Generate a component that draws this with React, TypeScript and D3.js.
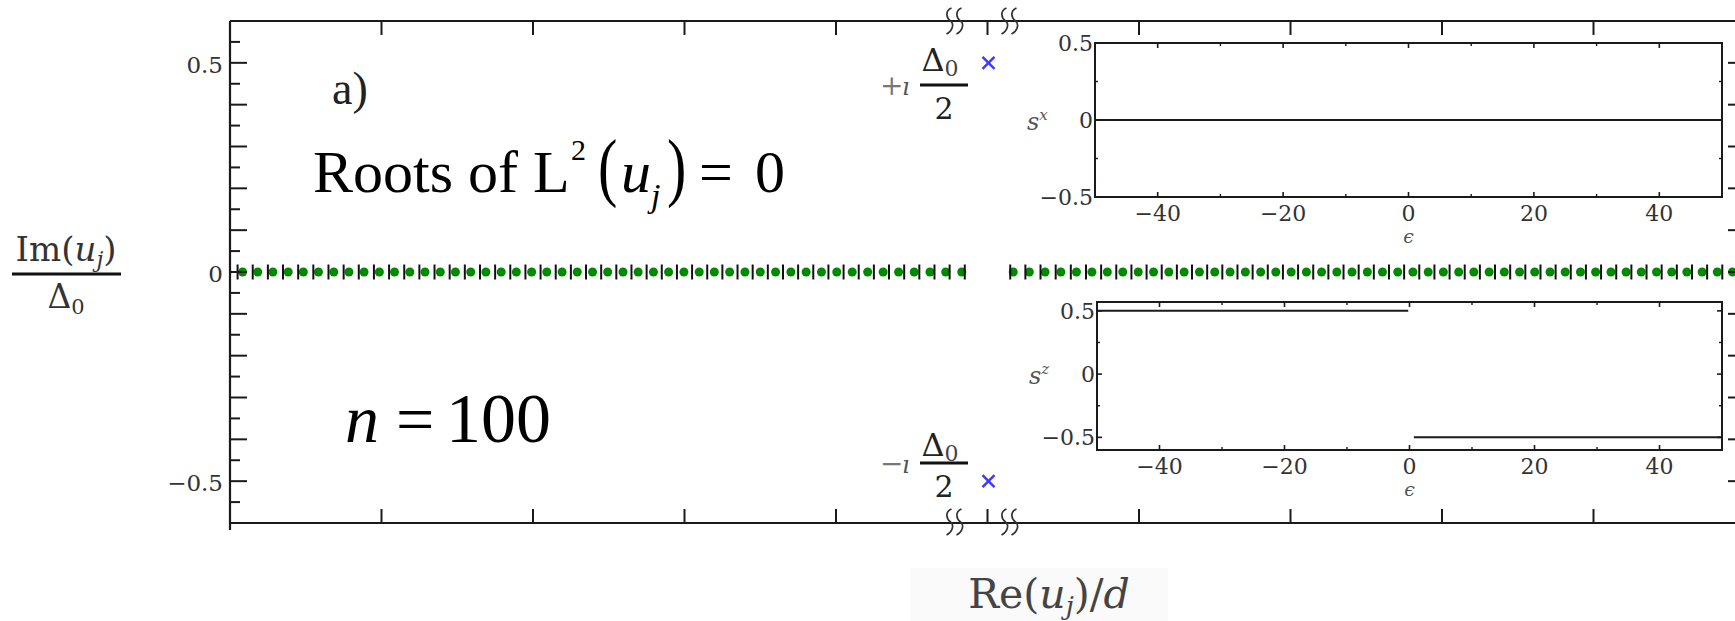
import React from "react";
import * as d3 from "d3";

const W = 1735;
const H = 621;

// Single-particle levels ε_j / d (black ticks on the real axis)
const levelsLeft = [
  -49.5, -48.5, -47.5, -46.5, -45.5, -44.5, -43.5, -42.5, -41.5, -40.5,
  -39.5, -38.5, -37.5, -36.5, -35.5, -34.5, -33.5, -32.5, -31.5, -30.5,
  -29.5, -28.5, -27.5, -26.5, -25.5, -24.5, -23.5, -22.5, -21.5, -20.5,
  -19.5, -18.5, -17.5, -16.5, -15.5, -14.5, -13.5, -12.5, -11.5, -10.5,
  -9.5, -8.5, -7.5, -6.5, -5.5, -4.5, -3.5, -2.5, -1.5,
];
const levelsRight = [
  1.5, 2.5, 3.5, 4.5, 5.5, 6.5, 7.5, 8.5, 9.5, 10.5,
  11.5, 12.5, 13.5, 14.5, 15.5, 16.5, 17.5, 18.5, 19.5, 20.5,
  21.5, 22.5, 23.5, 24.5, 25.5, 26.5, 27.5, 28.5, 29.5, 30.5,
  31.5, 32.5, 33.5, 34.5, 35.5, 36.5, 37.5, 38.5, 39.5, 40.5,
  41.5, 42.5, 43.5, 44.5, 45.5, 46.5, 47.5, 48.5, 49.5,
];

// Real roots Re(u_j)/d (green dots)
const rootsLeft = [
  -50.2, -49.17, -48.17, -47.17, -46.16, -45.16, -44.16, -43.15, -42.15, -41.15,
  -40.14, -39.14, -38.13, -37.13, -36.12, -35.12, -34.11, -33.11, -32.1, -31.1,
  -30.09, -29.09, -28.08, -27.08, -26.07, -25.07, -24.06, -23.06, -22.05, -21.05,
  -20.04, -19.03, -18.03, -17.02, -16.01, -15.0, -13.99, -12.98, -11.97, -10.96,
  -9.95, -8.93, -7.91, -6.89, -5.87, -4.84, -3.8, -2.76, -1.7,
];
const rootsRight = [
  1.7, 2.76, 3.8, 4.84, 5.87, 6.89, 7.91, 8.93, 9.95, 10.96,
  11.97, 12.98, 13.99, 15.0, 16.01, 17.02, 18.03, 19.03, 20.04, 21.05,
  22.05, 23.06, 24.06, 25.07, 26.07, 27.08, 28.08, 29.09, 30.09, 31.1,
  32.1, 33.11, 34.11, 35.12, 36.12, 37.13, 38.13, 39.14, 40.14, 41.15,
  42.15, 43.15, 44.16, 45.16, 46.16, 47.17, 48.17, 49.17, 50.2,
];

// Complex pair ±iΔ0/2 (blue crosses)
const complexRe = [0, 0];
const complexIm = [0.5, -0.5];

// Main axes ticks
const mainXTicks = [-40, -30, -20, -10, 0, 10, 20, 30, 40];
const mainYMajor = [-0.6, -0.5, -0.4, -0.3, -0.2, -0.1, 0, 0.1, 0.2, 0.3, 0.4, 0.5, 0.6];
const mainYMinor = [-0.55, -0.45, -0.35, -0.25, -0.15, -0.05, 0.05, 0.15, 0.25, 0.35, 0.45, 0.55];
const mainYLabels = ["−0.5", "0", "0.5"];
const mainYLabelVals = [-0.5, 0, 0.5];

// Inset ticks
const insetXMajor = [-40, -20, 0, 20, 40];
const insetXMajorLabels = ["−40", "−20", "0", "20", "40"];
const insetXMinor = [-30, -10, 10, 30];
const insetYMajor = [-0.5, 0, 0.5];
const insetYLabels = ["−0.5", "0", "0.5"];
const insetYMinor = [-0.25, 0.25];

// s^x(ε) and s^z(ε) curves
const sxEps = [-50, 50];
const sxVal = [0, 0];
const szEpsA = [-50, -0.2];
const szValA = [0.5, 0.5];
const szEpsB = [0.7, 50];
const szValB = [-0.5, -0.5];

const SERIF = "'Liberation Serif', 'Times New Roman', serif";
const MATH = "'DejaVu Serif', 'Liberation Serif', serif";
const INK = "#1a1a1a";
const GREY = "#555";

const x = d3.scaleLinear().domain([-50, 50]).range([230, 1745]);
const y = d3.scaleLinear().domain([-0.6, 0.6]).range([523, 21]);

type InsetProps = {
  x0: number;
  x1: number;
  y0: number;
  y1: number;
  yDomain: [number, number];
  label: string;
  curves: { eps: number[]; val: number[] }[];
};

function Inset({ x0, x1, y0, y1, yDomain, label, curves }: InsetProps) {
  const xi = d3.scaleLinear().domain([-50, 50]).range([x0, x1]);
  const yi = d3.scaleLinear().domain(yDomain).range([y1, y0]);
  const line = d3
    .line<[number, number]>()
    .x((d) => xi(d[0]))
    .y((d) => yi(d[1]));
  return (
    <g>
      {curves.map((c, i) => (
        <path
          key={i}
          d={line(c.eps.map((e, k) => [e, c.val[k]]) as [number, number][]) || ""}
          fill="none"
          stroke={INK}
          strokeWidth={2}
        />
      ))}
      <rect x={x0} y={y0} width={x1 - x0} height={y1 - y0} fill="none" stroke={INK} strokeWidth={2} />
      {insetXMajor.map((v) => (
        <g key={"xm" + v}>
          <line x1={xi(v)} x2={xi(v)} y1={y0} y2={y0 + 5} stroke={INK} strokeWidth={1.6} />
          <line x1={xi(v)} x2={xi(v)} y1={y1} y2={y1 - 5} stroke={INK} strokeWidth={1.6} />
        </g>
      ))}
      {insetXMinor.map((v) => (
        <g key={"xn" + v}>
          <line x1={xi(v)} x2={xi(v)} y1={y0} y2={y0 + 3} stroke={INK} strokeWidth={1.4} />
          <line x1={xi(v)} x2={xi(v)} y1={y1} y2={y1 - 3} stroke={INK} strokeWidth={1.4} />
        </g>
      ))}
      {insetYMajor.map((v) => (
        <g key={"ym" + v}>
          <line x1={x0} x2={x0 + 5} y1={yi(v)} y2={yi(v)} stroke={INK} strokeWidth={1.6} />
          <line x1={x1} x2={x1 - 5} y1={yi(v)} y2={yi(v)} stroke={INK} strokeWidth={1.6} />
        </g>
      ))}
      {insetYMinor.map((v) => (
        <g key={"yn" + v}>
          <line x1={x0} x2={x0 + 3} y1={yi(v)} y2={yi(v)} stroke={INK} strokeWidth={1.4} />
          <line x1={x1} x2={x1 - 3} y1={yi(v)} y2={yi(v)} stroke={INK} strokeWidth={1.4} />
        </g>
      ))}
      {insetYMajor.map((v, i) => (
        <text
          key={"yl" + v}
          x={x0 - 2}
          y={yi(v) + 8}
          textAnchor="end"
          fontFamily={MATH}
          fontSize={22}
          fill="#333"
        >
          {insetYLabels[i]}
        </text>
      ))}
      {insetXMajor.map((v, i) => (
        <text
          key={"xl" + v}
          x={xi(v)}
          y={y1 + 24}
          textAnchor="middle"
          fontFamily={MATH}
          fontSize={22}
          fill="#333"
        >
          {insetXMajorLabels[i]}
        </text>
      ))}
      <text x={xi(0)} y={y1 + 46} textAnchor="middle" fontFamily={MATH} fontStyle="italic" fontSize={19} fill={GREY}>
        ϵ
      </text>
      <text x={x0 - 68} y={yi(0) + 10} fontFamily={MATH} fontStyle="italic" fontSize={24} fill={GREY}>
        s
        <tspan dy={-10} fontSize={15}>
          {label}
        </tspan>
      </text>
    </g>
  );
}

// A wavy "axis break" glyph centred on (cx, cy)
function breakPath(cx: number, cy: number) {
  return (
    `M ${cx + 2} ${cy - 13} C ${cx - 5} ${cy - 10}, ${cx - 3} ${cy - 3}, ${cx + 1} ${cy} ` +
    `C ${cx + 5} ${cy + 3}, ${cx + 3} ${cy + 10}, ${cx - 3} ${cy + 13}`
  );
}

function Frac({
  cx,
  numY,
  barY,
  denY,
  sign,
  signY,
}: {
  cx: number;
  numY: number;
  barY: number;
  denY: number;
  sign: string;
  signY: number;
}) {
  return (
    <g fontFamily={MATH}>
      <text x={cx - 64} y={signY} fontSize={28} fill="#777">
        {sign}
      </text>
      <text x={cx - 42} y={signY} fontSize={24} fontStyle="italic" fill="#555">
        ı
      </text>
      <text x={cx - 4} y={numY} textAnchor="middle" fontSize={32} fill="#222">
        Δ
        <tspan fontSize={22} dy={5} fill="#444">
          0
        </tspan>
      </text>
      <line x1={cx - 24} x2={cx + 24} y1={barY} y2={barY} stroke="#111" strokeWidth={3} />
      <text x={cx} y={denY} textAnchor="middle" fontSize={30} fill="#222">
        2
      </text>
    </g>
  );
}

export default function App() {
  const x0 = x(-50);
  const x1 = x(50);
  const yTop = y(0.6);
  const yBot = y(-0.6);
  const y0 = y(0);
  const zeroX = x(0);
  const breaks = [zeroX - 38, zeroX - 28, zeroX + 17, zeroX + 27];

  return (
    <svg
      width={W}
      height={H}
      viewBox={`0 0 ${W} ${H}`}
      style={{ position: "absolute", left: 0, top: 0, background: "#fff" }}
    >
      <defs>
        <clipPath id="plotClip">
          <rect x={x0} y={yTop} width={x1 - x0} height={yBot - yTop} />
        </clipPath>
      </defs>
      <rect x={0} y={0} width={W} height={H} fill="#fff" />

      {/* real roots and levels */}
      <g clipPath="url(#plotClip)">
        {[...rootsLeft, ...rootsRight].map((r, i) => (
          <circle key={"r" + i} cx={x(r)} cy={y0} r={4.5} fill="#008a00" />
        ))}
        {[...levelsLeft, ...levelsRight].map((l, i) => (
          <line key={"l" + i} x1={x(l)} x2={x(l)} y1={y0 - 7.5} y2={y0 + 7.5} stroke="#111" strokeWidth={2} />
        ))}
      </g>

      {/* complex pair */}
      {complexRe.map((re, i) => {
        const cx = x(re) + 1;
        const cy = y(complexIm[i]);
        return (
          <g key={"c" + i} stroke="#3b3bff" strokeWidth={2.4}>
            <line x1={cx - 6} x2={cx + 6} y1={cy - 6} y2={cy + 6} />
            <line x1={cx - 6} x2={cx + 6} y1={cy + 6} y2={cy - 6} />
          </g>
        );
      })}

      {/* frame */}
      <g stroke={INK} strokeWidth={2.2} fill="none">
        <line x1={x0} x2={x1} y1={yTop} y2={yTop} />
        <line x1={x0} x2={x1} y1={yBot} y2={yBot} />
        <line x1={x0} x2={x0} y1={yTop} y2={yBot + 7} />
        <line x1={x1} x2={x1} y1={yTop} y2={yBot} />
      </g>

      {/* y ticks */}
      {mainYMajor.map((v) => (
        <g key={"my" + v} stroke={INK} strokeWidth={2}>
          <line x1={x0} x2={x0 + 17} y1={y(v)} y2={y(v)} />
          <line x1={x1} x2={x1 - 17} y1={y(v)} y2={y(v)} />
        </g>
      ))}
      {mainYMinor.map((v) => (
        <g key={"mn" + v} stroke={INK} strokeWidth={2}>
          <line x1={x0} x2={x0 + 10} y1={y(v)} y2={y(v)} />
          <line x1={x1} x2={x1 - 10} y1={y(v)} y2={y(v)} />
        </g>
      ))}
      {mainYLabelVals.map((v, i) => (
        <text key={"yl" + v} x={x0 - 7} y={y(v) + 10} textAnchor="end" fontFamily={MATH} fontSize={23} fill="#333">
          {mainYLabels[i]}
        </text>
      ))}

      {/* x ticks */}
      {mainXTicks.map((v) => (
        <g key={"mx" + v} stroke={INK} strokeWidth={2}>
          <line x1={x(v)} x2={x(v)} y1={yTop} y2={yTop + 14} />
          <line x1={x(v)} x2={x(v)} y1={yBot} y2={yBot - 14} />
        </g>
      ))}

      {/* axis breaks */}
      {breaks.map((bx, i) => (
        <g key={"b" + i} stroke="#333" strokeWidth={1.7} fill="none">
          <path d={breakPath(bx, yTop)} />
          <path d={breakPath(bx, yBot - 1)} />
        </g>
      ))}

      {/* complex-root labels */}
      <Frac cx={944} numY={71} barY={85} denY={119} sign="+" signY={95} />
      <Frac cx={944} numY={456} barY={463} denY={497} sign="−" signY={473} />

      {/* y-axis title */}
      <g fontFamily={MATH} fill="#333">
        <text x={66} y={261} textAnchor="middle" fontSize={34}>
          Im(<tspan fontStyle="italic">u</tspan>
          <tspan fontStyle="italic" fontSize={22} dy={6}>
            j
          </tspan>
          <tspan dy={-6}>)</tspan>
        </text>
        <line x1={12} x2={121} y1={274} y2={274} stroke="#111" strokeWidth={3} />
        <text x={66} y={308} textAnchor="middle" fontSize={33}>
          Δ<tspan fontSize={21} dy={6}>0</tspan>
        </text>
      </g>

      {/* x-axis title */}
      <rect x={910} y={568} width={258} height={53} fill="#fafafa" />
      <text x={1049} y={608} textAnchor="middle" fontFamily={MATH} fontSize={41} fill="#444">
        Re(<tspan fontStyle="italic">u</tspan>
        <tspan fontStyle="italic" fontSize={26} dy={7}>
          j
        </tspan>
        <tspan dy={-7}>)/</tspan>
        <tspan fontStyle="italic">d</tspan>
      </text>

      {/* annotations */}
      <text x={332} y={104} fontFamily={SERIF} fontSize={46} fill="#222">
        a)
      </text>
      <g fontFamily={SERIF} fill="#000">
        <text x={313} y={192} fontSize={60}>
          Roots of L
        </text>
        <text x={571} y={160} fontSize={30}>
          2
        </text>
        <text x={598} y={192} fontSize={58} transform="translate(0,-60) scale(1,1.31)">
          (
        </text>
        <text x={621} y={192} fontSize={60} fontStyle="italic">
          u
        </text>
        <text x={651} y={207} fontSize={34} fontStyle="italic">
          j
        </text>
        <text x={667} y={192} fontSize={58} transform="translate(0,-60) scale(1,1.31)">
          )
        </text>
        <text x={699} y={192} fontSize={60}>
          =
        </text>
        <text x={755} y={192} fontSize={60}>
          0
        </text>
      </g>
      <g fontFamily={SERIF} fill="#000">
        <text x={345} y={442} fontSize={68} fontStyle="italic">
          n
        </text>
        <text x={396} y={442} fontSize={68}>
          =
        </text>
        <text x={446} y={442} fontSize={70}>
          100
        </text>
      </g>

      {/* insets */}
      <Inset
        x0={1095}
        x1={1722}
        y0={43}
        y1={197}
        yDomain={[-0.5, 0.5]}
        label="x"
        curves={[{ eps: sxEps, val: sxVal }]}
      />
      <Inset
        x0={1097}
        x1={1722}
        y0={302}
        y1={450}
        yDomain={[-0.6, 0.57]}
        label="z"
        curves={[
          { eps: szEpsA, val: szValA },
          { eps: szEpsB, val: szValB },
        ]}
      />
    </svg>
  );
}
